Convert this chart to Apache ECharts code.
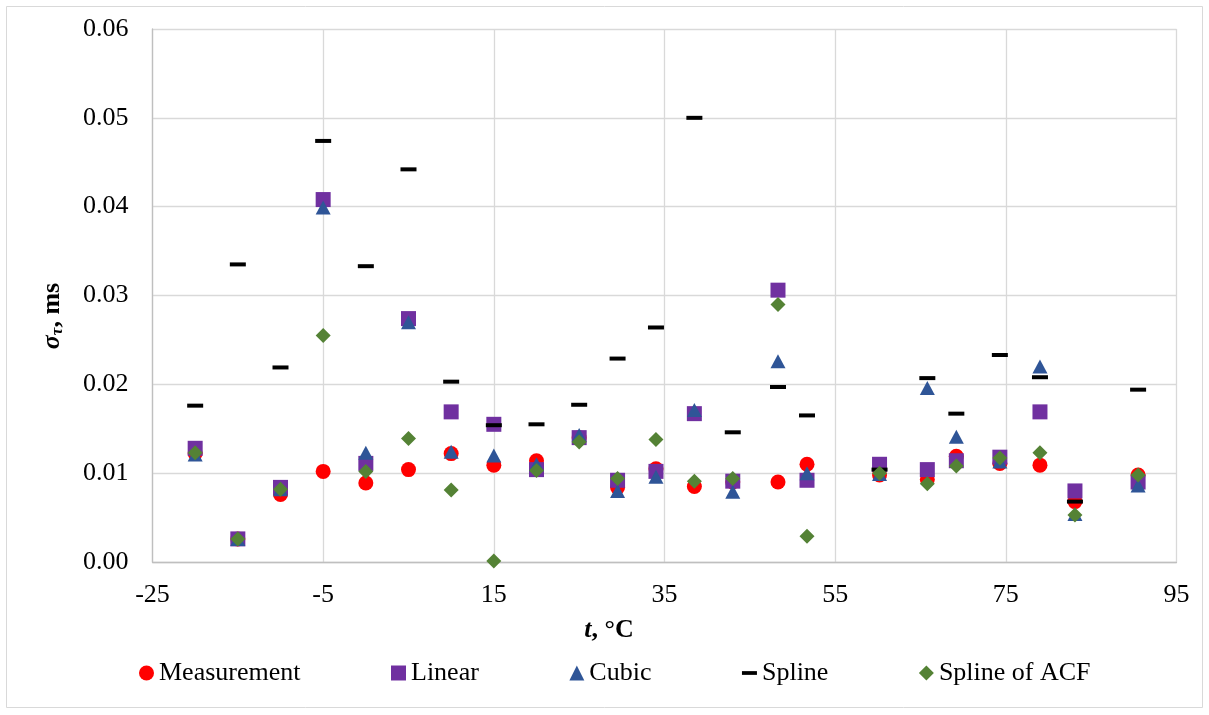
<!DOCTYPE html>
<html>
<head>
<meta charset="utf-8">
<title>σ_τ vs t</title>
<script src="https://cdn.jsdelivr.net/npm/echarts@6/dist/echarts.min.js"></script>
<style>
  html, body { margin: 0; padding: 0; background: #ffffff; }
  #chart { width: 1209px; height: 715px; }
</style>
</head>
<body>
<div id="chart"></div>
<script>
// Temperatures, °C
const temperatures = [-20, -15, -10, -5, 0, 5, 10, 15, 20, 25, 29.5, 34, 38.5, 43, 48.3, 51.7, 60.2, 65.8, 69.2, 74.3, 79, 83.1, 90.5];

// Standard deviation σ_τ, ms, per method
const measurement = [0.0122, 0.0026, 0.0076, 0.0102, 0.0089, 0.0104, 0.0122, 0.0109, 0.0114, 0.0140, 0.0084, 0.0105, 0.0085, 0.0090, 0.0090, 0.0110, 0.0098, 0.0093, 0.0119, 0.0111, 0.0109, 0.0068, 0.0098];
const linear      = [0.0128, 0.0026, 0.0084, 0.0408, 0.0111, 0.0274, 0.0169, 0.0155, 0.0104, 0.0140, 0.0092, 0.0102, 0.0167, 0.0091, 0.0306, 0.0092, 0.0110, 0.0104, 0.0114, 0.0118, 0.0169, 0.0080, 0.0090];
const cubic       = [0.0121, 0.0026, 0.0082, 0.0399, 0.0123, 0.0270, 0.0124, 0.0120, 0.0110, 0.0143, 0.0080, 0.0096, 0.0171, 0.0079, 0.0226, 0.0100, 0.0099, 0.0196, 0.0141, 0.0113, 0.0220, 0.0054, 0.0086];
const spline      = [0.0176, 0.0335, 0.0219, 0.0474, 0.0333, 0.0442, 0.0203, 0.0154, 0.0155, 0.0177, 0.0229, 0.0264, 0.0500, 0.0146, 0.0197, 0.0165, 0.0104, 0.0207, 0.0167, 0.0233, 0.0208, 0.0068, 0.0194];
const splineAcf   = [0.0123, 0.0026, 0.0082, 0.0255, 0.0102, 0.0139, 0.0081, 0.0001, 0.0103, 0.0135, 0.0094, 0.0138, 0.0091, 0.0094, 0.0290, 0.0029, 0.0100, 0.0088, 0.0108, 0.0117, 0.0123, 0.0053, 0.0098];

// Axis ticks
const xTicks = [-25, -5, 15, 35, 55, 75, 95];
const yTicks = [0, 0.01, 0.02, 0.03, 0.04, 0.05, 0.06];

// The x axis runs on a shifted scale so that its first tick sits on a multiple of the step.
const X_SHIFT = -xTicks[0];
const X_STEP = xTicks[1] - xTicks[0];

const FONT = '"Liberation Serif", "Times New Roman", serif';

const points = vals => temperatures.map((t, i) => [t + X_SHIFT, vals[i]]);

const chart = echarts.init(document.getElementById('chart'), null, { renderer: 'canvas' });

chart.setOption({
  animation: false,
  backgroundColor: '#ffffff',
  textStyle: { fontFamily: FONT },
  grid: { left: 152.5, top: 29, width: 1024, height: 533, containLabel: false },
  xAxis: {
    type: 'value',
    min: xTicks[0] + X_SHIFT,
    max: xTicks[xTicks.length - 1] + X_SHIFT,
    interval: X_STEP,
    axisLine: { show: true, onZero: false, lineStyle: { color: '#bfbfbf', width: 1.3 } },
    axisTick: { show: false },
    splitLine: { show: true, lineStyle: { color: '#d9d9d9', width: 1.3 } },
    axisLabel: {
      margin: 20,
      fontSize: 26,
      fontFamily: FONT,
      color: '#000000',
      formatter: v => String(Math.round(v - X_SHIFT))
    }
  },
  yAxis: {
    type: 'value',
    min: yTicks[0],
    max: yTicks[yTicks.length - 1],
    interval: yTicks[1] - yTicks[0],
    axisLine: { show: true, lineStyle: { color: '#bfbfbf', width: 1.3 } },
    axisTick: { show: false },
    splitLine: { show: true, lineStyle: { color: '#d9d9d9', width: 1.3 } },
    axisLabel: {
      margin: 24,
      fontSize: 26,
      fontFamily: FONT,
      color: '#000000',
      formatter: v => v.toFixed(2)
    }
  },
  legend: {
    left: 139,
    top: 660,
    padding: 0,
    orient: 'horizontal',
    itemWidth: 15,
    itemHeight: 15,
    itemGap: 90.5,
    selectedMode: false,
    textStyle: { fontSize: 26, fontFamily: FONT, color: '#000000' },
    data: [
      { name: 'Measurement', icon: 'circle' },
      { name: 'Linear', icon: 'rect' },
      { name: 'Cubic', icon: 'triangle' },
      { name: 'Spline', icon: 'path://M0 0H16V4H0Z' },
      { name: 'Spline of ACF', icon: 'diamond' }
    ]
  },
  graphic: [
    {
      type: 'rect',
      silent: true,
      shape: { x: 6.5, y: 6.5, width: 1196, height: 701 },
      style: { fill: 'none', stroke: '#d9d9d9', lineWidth: 1 },
      z: -10
    },
    {
      type: 'text',
      silent: true,
      x: 609,
      y: 630,
      style: {
        text: '{i|t}{b|, °C}',
        align: 'center',
        verticalAlign: 'middle',
        rich: {
          i: { fontFamily: FONT, fontSize: 26, fontWeight: 'bold', fontStyle: 'italic', fill: '#000000' },
          b: { fontFamily: FONT, fontSize: 26, fontWeight: 'bold', fill: '#000000' }
        }
      }
    },
    {
      type: 'text',
      silent: true,
      x: 52,
      y: 316,
      rotation: Math.PI / 2,
      style: {
        text: '{i|σ}{s|τ}{b|, ms}',
        align: 'center',
        verticalAlign: 'middle',
        rich: {
          i: { fontFamily: FONT, fontSize: 26, lineHeight: 26, fontWeight: 'bold', fontStyle: 'italic', fill: '#000000' },
          s: { fontFamily: FONT, fontSize: 17, lineHeight: 17, fontWeight: 'bold', fontStyle: 'italic', fill: '#000000', padding: [12, 0, 0, 0] },
          b: { fontFamily: FONT, fontSize: 26, lineHeight: 26, fontWeight: 'bold', fill: '#000000' }
        }
      }
    }
  ],
  series: [
    {
      name: 'Measurement', type: 'scatter', symbol: 'circle', symbolSize: 15,
      itemStyle: { color: '#ff0000', opacity: 1 },
      emphasis: { disabled: true },
      data: points(measurement)
    },
    {
      name: 'Linear', type: 'scatter', symbol: 'rect', symbolSize: 15,
      itemStyle: { color: '#7030a0', opacity: 1 },
      emphasis: { disabled: true },
      data: points(linear)
    },
    {
      name: 'Cubic', type: 'scatter', symbol: 'triangle', symbolSize: [15, 14],
      itemStyle: { color: '#2f5597', opacity: 1 },
      emphasis: { disabled: true },
      data: points(cubic)
    },
    {
      name: 'Spline', type: 'scatter', symbol: 'rect', symbolSize: [16, 4],
      itemStyle: { color: '#000000', opacity: 1 },
      emphasis: { disabled: true },
      data: points(spline)
    },
    {
      name: 'Spline of ACF', type: 'scatter', symbol: 'diamond', symbolSize: 15,
      itemStyle: { color: '#548235', opacity: 1 },
      emphasis: { disabled: true },
      data: points(splineAcf)
    }
  ]
});
</script>
</body>
</html>
